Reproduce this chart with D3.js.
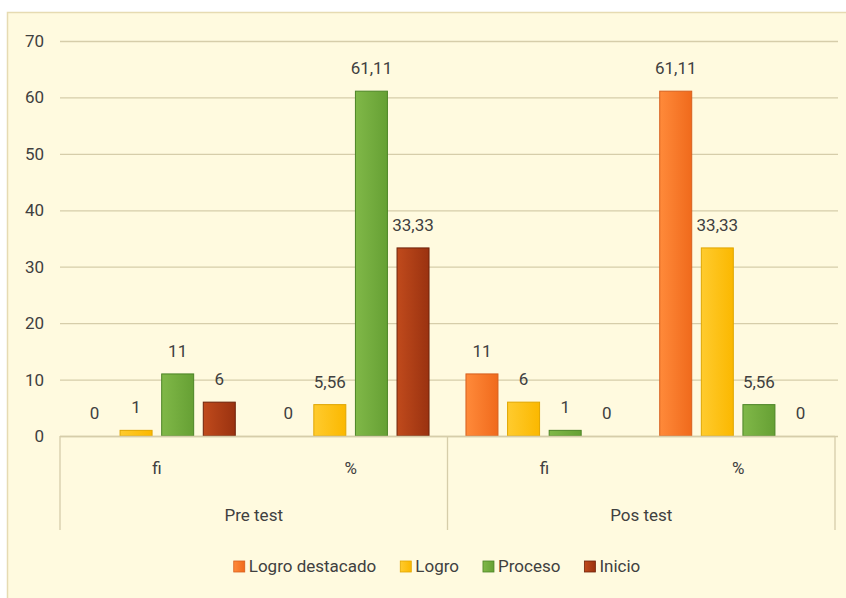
<!DOCTYPE html>
<html>
<head>
<meta charset="utf-8">
<script src="https://cdn.jsdelivr.net/npm/d3@7"></script>
<style>
  html, body { margin: 0; padding: 0; background: #ffffff; }
  svg { display: block; }
  text { font-family: Roboto, "Liberation Sans", sans-serif; fill: #404040; }
</style>
</head>
<body>
<script>
// ---- data ----
const groups = ["Pre test", "Pos test"];
const subcats = ["fi", "%"];
const series = ["Logro destacado", "Logro", "Proceso", "Inicio"];
const logroDestacado = [0, 0, 11, 61.11];
const logro = [1, 5.56, 6, 33.33];
const proceso = [11, 61.11, 1, 5.56];
const inicio = [6, 33.33, 0, 0];
const yTicks = [0, 10, 20, 30, 40, 50, 60, 70];

const seriesValues = [logroDestacado, logro, proceso, inicio];
const colors = {
  "Logro destacado": { light: "#FF8A3A", dark: "#F06A1C", stroke: "#D65F1E" },
  "Logro": { light: "#FFCB2E", dark: "#FBB800", stroke: "#E0A600" },
  "Proceso": { light: "#80B848", dark: "#66A034", stroke: "#4C8426" },
  "Inicio": { light: "#C04A1C", dark: "#9A3210", stroke: "#6E220A" }
};

const W = 846, H = 598;
const svg = d3.select("body").append("svg").attr("width", W).attr("height", H);

// gradients
const defs = svg.append("defs");
series.forEach((s, i) => {
  const g = defs.append("linearGradient").attr("id", "grad" + i)
    .attr("x1", "0%").attr("x2", "100%").attr("y1", "0%").attr("y2", "0%");
  g.append("stop").attr("offset", "0%").attr("stop-color", colors[s].light);
  g.append("stop").attr("offset", "100%").attr("stop-color", colors[s].dark);
});

// chart background
svg.append("rect").attr("x", 7.5).attr("y", 12.5).attr("width", W).attr("height", H)
  .attr("fill", "#FFFADF").attr("stroke", "#E6DBB2").attr("stroke-width", 1.5);

const cats = [];
groups.forEach(g => subcats.forEach(s => cats.push(g + "|" + s)));

const plotLeft = 60, plotRight = 835, plotTop = 41, plotBottom = 436;
const x0 = d3.scaleBand().domain(cats).range([plotLeft, plotRight]).padding(0);
const x1 = d3.scaleBand().domain(series).range([0, x0.bandwidth()])
  .paddingInner(0.207).paddingOuter(0.432);
const y = d3.scaleLinear().domain([0, 70]).range([plotBottom, plotTop]);
const xg = d3.scaleBand().domain(groups).range([plotLeft, plotRight]).padding(0);

// gridlines
svg.append("g").selectAll("line").data(yTicks).join("line")
  .attr("x1", plotLeft).attr("x2", plotRight + 3)
  .attr("y1", d => y(d) + 0.5).attr("y2", d => y(d) + 0.5)
  .attr("stroke", "#D6CDAA").attr("stroke-width", 1.3);

// y labels
svg.append("g").selectAll("text").data(yTicks).join("text")
  .attr("x", 44).attr("y", d => y(d)).attr("dy", "0.35em")
  .attr("text-anchor", "end").attr("font-size", 17).text(d => d);

// bars
const fmt = v => Number.isInteger(v) ? String(v) : v.toFixed(2).replace(".", ",");
const barData = [];
series.forEach((s, si) => {
  cats.forEach((c, ci) => {
    barData.push({ s, si, c, v: seriesValues[si][ci] });
  });
});

svg.append("g").selectAll("rect").data(barData.filter(d => d.v > 0)).join("rect")
  .attr("x", d => x0(d.c) + x1(d.s) + 0.5)
  .attr("y", d => y(d.v))
  .attr("width", x1.bandwidth() - 1)
  .attr("height", d => y(0) - y(d.v))
  .attr("fill", d => "url(#grad" + d.si + ")")
  .attr("stroke", d => colors[d.s].stroke).attr("stroke-width", 1);

// data labels
svg.append("g").selectAll("text").data(barData).join("text")
  .attr("x", d => x0(d.c) + x1(d.s) + x1.bandwidth() / 2)
  .attr("y", d => y(d.v) - 17)
  .attr("text-anchor", "middle").attr("font-size", 17)
  .text(d => fmt(d.v));

// category axis
const axisG = svg.append("g").attr("stroke", "#D6CDAA").attr("stroke-width", 1.3);
axisG.append("line").attr("x1", plotLeft).attr("x2", plotRight)
  .attr("y1", plotBottom + 0.5).attr("y2", plotBottom + 0.5);
const seps = [xg(groups[0]), xg(groups[1]), plotRight];
axisG.selectAll("line.sep").data(seps).join("line").attr("class", "sep")
  .attr("x1", d => d).attr("x2", d => d)
  .attr("y1", plotBottom).attr("y2", 530);

svg.append("g").selectAll("text").data(cats).join("text")
  .attr("x", d => x0(d) + x0.bandwidth() / 2)
  .attr("y", 468).attr("dy", "0.35em")
  .attr("text-anchor", "middle").attr("font-size", 17)
  .text(d => d.split("|")[1]);

svg.append("g").selectAll("text").data(groups).join("text")
  .attr("x", d => xg(d) + xg.bandwidth() / 2)
  .attr("y", 515).attr("dy", "0.35em")
  .attr("text-anchor", "middle").attr("font-size", 17)
  .text(d => d);

// legend
const legend = svg.append("g");
const items = legend.selectAll("g").data(series).join("g");
items.append("rect").attr("width", 11).attr("height", 11)
  .attr("fill", (d, i) => "url(#grad" + i + ")")
  .attr("stroke", d => colors[d].stroke).attr("stroke-width", 0.8);
items.append("text").attr("x", 15).attr("y", 5.5).attr("dy", "0.35em")
  .attr("font-size", 17).text(d => d);
let xpos = 0;
const offs = [];
items.each(function () {
  offs.push(xpos);
  const w = this.getBBox().width;
  xpos += w + 24;
});
const totalW = xpos - 24;
const legendStart = 437 - totalW / 2;
items.attr("transform", (d, i) => `translate(${legendStart + offs[i]},${561})`);
</script>
</body>
</html>
